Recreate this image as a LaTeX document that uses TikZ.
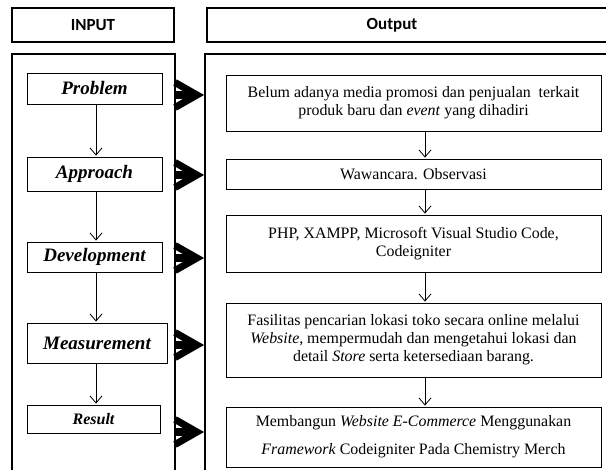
\documentclass[tikz,border=0pt]{standalone}
\usepackage{fontspec}
\setmainfont{Liberation Serif}
\newfontfamily\headfont{Carlito}
\usetikzlibrary{arrows.meta,calc}
\begin{document}
\begin{tikzpicture}[x=1pt,y=-1pt,
  header/.style={draw, line width=1.6pt, font=\headfont\fontsize{17}{20}\selectfont\bfseries},
  headtext/.style={font=\headfont\fontsize{17}{20}\selectfont\bfseries},
  panel/.style={draw, line width=2.6pt},
  stage/.style={draw, line width=0.9pt, inner sep=0pt, font=\fontsize{19}{22}\selectfont\bfseries\itshape},
  outbox/.style={draw, line width=0.9pt, inner sep=0pt, minimum width=375pt, align=center, font=\fontsize{15.9}{17.8}\selectfont},
  flow/.style={line width=0.8pt, -{Straight Barb[length=7pt,width=12pt]}, shorten >=1pt},
  shaft/.style={line width=8pt},
  chevron/.style={line width=7pt, miter limit=10}
]
\useasboundingbox (0,0) rectangle (606,470);
\clip (0,0) rectangle (606,470);

% column headers
\node[header, minimum width=162pt, minimum height=34pt] (inhead) at (93,25) {INPUT};
\draw[line width=1.6pt] (207,8) rectangle (650,42);
\node[headtext] (outhead) at (392,25) {Output};

% the two panels
\draw[panel] (12,54) rectangle (175,500);
\draw[panel] (205,54) rectangle (650,500);

% input stages
\node[stage, minimum width=135pt, minimum height=31pt] (s1) at (94.5,88.5) {Problem};
\node[stage, minimum width=135pt, minimum height=34pt] (s2) at (94.5,174) {Approach};
\node[stage, minimum width=135pt, minimum height=30pt] (s3) at (94.5,257) {Development};
\node[stage, minimum width=140pt, minimum height=40pt] (s4) at (97,343) {Measurement};
\node[stage, minimum width=133pt, minimum height=28pt, font=\fontsize{16}{19}\selectfont\bfseries\itshape] (s5) at (93.5,419) {Result};

\coordinate (lx) at (96,0);
\draw[flow] (s1.south -| lx) -- (s2.north -| lx);
\draw[flow] (s2.south -| lx) -- (s3.north -| lx);
\draw[flow] (s3.south -| lx) -- (s4.north -| lx);
\draw[flow] (s4.south -| lx) -- (s5.north -| lx);

% output results
\node[outbox, minimum height=56pt] (o1) at (413.5,103)
  {Belum adanya media promosi dan penjualan\ \ terkait\\produk baru dan \textit{event} yang dihadiri};
\node[outbox, minimum height=30pt] (o2) at (413.5,174) {Wawancara. Observasi};
\node[outbox, minimum height=57pt] (o3) at (413.5,243.5)
  {PHP, XAMPP, Microsoft Visual Studio Code,\\Codeigniter};
\node[outbox, minimum height=74pt] (o4) at (413.5,340)
  {Fasilitas pencarian lokasi toko secara online melalui\\\textit{Website}, mempermudah dan mengetahui lokasi dan\\detail \textit{Store} serta ketersediaan barang.};
\node[outbox, minimum height=60pt] (o5) at (413.5,437)
  {Membangun \textit{Website E-Commerce} Menggunakan\\[10pt]\textit{Framework} Codeigniter Pada Chemistry Merch};

\coordinate (rx) at (425,0);
\draw[flow] (o1.south -| rx) -- (o2.north -| rx);
\draw[flow] (o2.south -| rx) -- (o3.north -| rx);
\draw[flow] (o3.south -| rx) -- (o4.north -| rx);
\draw[flow] (o4.south -| rx) -- (o5.north -| rx);

% heavy arrows from the input panel to the output panel
\foreach \i/\y in {1/95, 2/175, 3/258, 4/345, 5/432} {
  \coordinate (ta\i) at (175,\y);
  \coordinate (tb\i) at (197,\y);
  \draw[shaft] (ta\i) -- (tb\i);
  \draw[chevron] ($(ta\i)+(0,-12.5)$) -- (tb\i) -- ($(ta\i)+(0,12.5)$);
}
\end{tikzpicture}
\end{document}
